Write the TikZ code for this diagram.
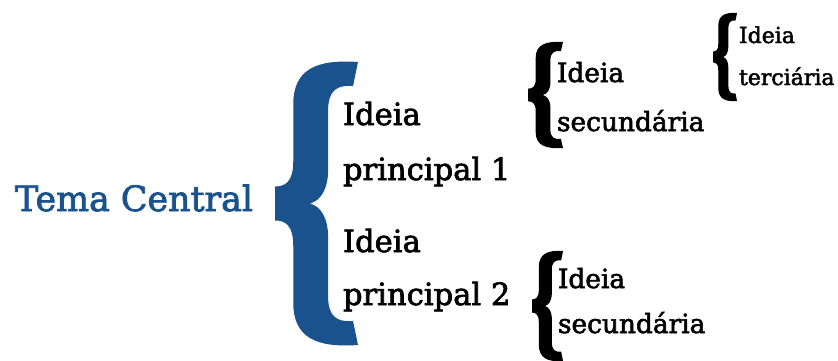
\documentclass[tikz,border=0pt]{standalone}
\usepackage{fontspec}
\setmainfont{DejaVu Serif}[FakeBold=2.2]
\definecolor{temablue}{HTML}{19528C}
\newcommand\bracefill[5]{% colour, tip x, centre y, width, half height
  \fill[#1, shift={(#2,#3)}, x=#4pt, y=#5pt]
    (1,1) -- (0.94,0.83) .. controls (0.75,0.84) and (0.64,0.8) .. (0.64,0.66)
    -- (0.64,0.24) .. controls (0.64,0.1) and (0.55,0.02) .. (0.42,0)
    .. controls (0.55,-0.02) and (0.64,-0.1) .. (0.64,-0.24)
    -- (0.64,-0.66) .. controls (0.64,-0.8) and (0.75,-0.84) .. (0.94,-0.83)
    -- (1,-1) .. controls (0.5,-1.02) and (0.22,-0.95) .. (0.22,-0.7)
    -- (0.22,-0.3) .. controls (0.22,-0.15) and (0.12,-0.12) .. (0,-0.12)
    -- (0,0.12) .. controls (0.12,0.12) and (0.22,0.15) .. (0.22,0.3)
    -- (0.22,0.7) .. controls (0.22,0.95) and (0.5,1.02) .. (1,1) -- cycle;}
\tikzset{
  txt/.style={anchor=base west, inner sep=0pt, outer sep=0pt},
  tema/.style={txt, text=temablue, font=\fontsize{34.8}{36}\selectfont},
  princ/.style={txt, font=\fontsize{30.6}{32}\selectfont},
  secund/.style={txt, font=\fontsize{26.4}{28}\selectfont},
  terc/.style={txt, font=\fontsize{22}{24}\selectfont},
}
\begin{document}
\begin{tikzpicture}[x=1pt, y=-1pt]
  \useasboundingbox (0,0) rectangle (838,360);
  % braces
  \bracefill{temablue}{275}{203.5}{83}{141.5}
  \bracefill{black}{528}{95}{35}{53}
  \bracefill{black}{713}{57}{24}{44}
  \bracefill{black}{532}{306}{31}{55}
  % texts
  \node[tema] (tema) at (15,211) {Tema Central};
  \node[princ] (p1a) at (343,125) {Ideia};
  \node[princ] (p1b) at (343,180) {principal 1};
  \node[princ] (p2a) at (343,252) {Ideia};
  \node[princ] (p2b) at (343,305) {principal 2};
  \node[secund] (s1a) at (557,82) {Ideia};
  \node[secund] (s1b) at (557,131) {secundária};
  \node[terc] (t1a) at (739,43) {Ideia};
  \node[terc] (t1b) at (739,85) {terciária};
  \node[secund] (s2a) at (558,288) {Ideia};
  \node[secund] (s2b) at (558,333) {secundária};
\end{tikzpicture}
\end{document}
